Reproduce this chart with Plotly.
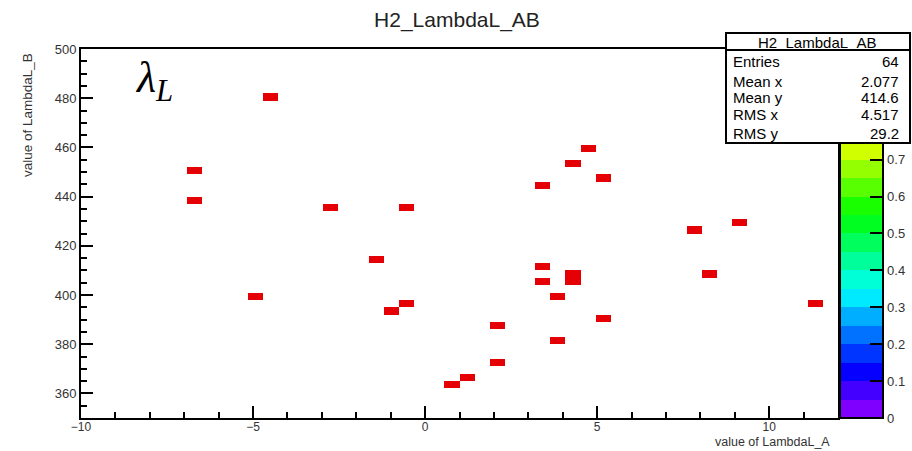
import numpy as np
import plotly.graph_objects as go
import colorsys

# ---------------- data ----------------
# filled bin centres (value of LambdaL_A, value of LambdaL_B) and bin content
BIN_X = [-4.50, -6.70, -6.70, -2.74, -0.54, -1.42, -4.94, -0.98, -0.54,
         4.74, 4.30, 5.18, 3.42, 3.42, 3.42, 4.30, 4.30, 3.86, 5.18, 3.86,
         2.10, 2.10, 1.22, 0.78, 7.82, 9.14, 8.26, 11.34]
BIN_Y = [480.5, 450.5, 438.5, 435.5, 435.5, 414.5, 399.5, 393.5, 396.5,
         459.5, 453.5, 447.5, 444.5, 411.5, 405.5, 405.5, 408.5, 399.5, 390.5, 381.5,
         387.5, 372.5, 366.5, 363.5, 426.5, 429.5, 408.5, 396.5]
BIN_W = [1] * len(BIN_X)

# histogram binning
X_MIN, X_MAX, NX = -10.0, 12.0, 50
Y_MIN, Y_MAX, NY = 350.0, 500.0, 50

HIST_TITLE = "H2_LambdaL_AB"
X_TITLE = "value of LambdaL_A"
Y_TITLE = "value of LambdaL_B"
STATS_LABELS = ["Entries", "Mean x", "Mean y", "RMS x", "RMS y"]
STATS_VALUES = ["64", "2.077", "414.6", "4.517", "29.2"]
CB_TICKS = [0, 0.1, 0.2, 0.3, 0.4, 0.5, 0.6, 0.7]
CB_TICKTEXT = ["0", "0.1", "0.2", "0.3", "0.4", "0.5", "0.6", "0.7"]
CB_VISIBLE_MAX = 0.745   # part of the palette not hidden by the stats box

# ---------------- build histogram grid ----------------
x_edges = np.linspace(X_MIN, X_MAX, NX + 1)
y_edges = np.linspace(Y_MIN, Y_MAX, NY + 1)
z = np.full((NY, NX), np.nan)
for bx, by, w in zip(BIN_X, BIN_Y, BIN_W):
    i = int(np.floor((bx - X_MIN) / (X_MAX - X_MIN) * NX))
    j = int(np.floor((by - Y_MIN) / (Y_MAX - Y_MIN) * NY))
    z[j, i] = (0 if np.isnan(z[j, i]) else z[j, i]) + w

# ---------------- ROOT-like discrete palette ----------------
NB = 20
def band_color(k):
    h = 270.0 * (1 - k / (NB - 1)) / 360.0
    r, g, b = colorsys.hls_to_rgb(h, 0.5, 1.0)
    if k == NB - 1:
        r, g, b = 0.90, 0.0, 0.02
    return f"rgb({int(r*255)},{int(g*255)},{int(b*255)})"

def discrete_scale(vmax):
    scale = []
    for k in range(NB):
        lo, hi = k / NB, (k + 1) / NB
        if lo >= vmax:
            break
        hi = min(hi, vmax)
        c = band_color(k)
        scale.append([lo / vmax, c])
        scale.append([hi / vmax, c])
    return scale

full_scale = discrete_scale(1.0)
cb_scale = discrete_scale(CB_VISIBLE_MAX)

# ---------------- layout geometry (pixels) ----------------
W, H = 912, 451
L, R, T, B = 81, 838, 49, 418
PW, PH = R - L, B - T
def px(x):
    return (x - L) / PW
def py(y):
    return (B - y) / PH

fig = go.Figure()
fig.add_trace(go.Heatmap(
    x=x_edges, y=y_edges, z=z, zmin=0, zmax=1,
    colorscale=full_scale, showscale=False, hoverongaps=False,
))
fig.add_trace(go.Scatter(
    x=[None], y=[None], mode="markers", showlegend=False, hoverinfo="skip",
    marker=dict(color=[0], cmin=0, cmax=CB_VISIBLE_MAX, colorscale=cb_scale,
                showscale=True,
                colorbar=dict(
                    x=px(840), xanchor="left", xpad=0,
                    y=0, yanchor="bottom", ypad=0,
                    len=B - 143, lenmode="pixels",
                    thickness=43, thicknessmode="pixels",
                    outlinewidth=2, outlinecolor="black",
                    ticks="inside", ticklen=14, tickwidth=2, tickcolor="black",
                    tickvals=CB_TICKS, ticktext=CB_TICKTEXT,
                    tickfont=dict(family="Liberation Sans, Arial", size=13, color="#333"),
                )),
))

font = "Liberation Sans, Arial, Helvetica"
axis_common = dict(
    showline=True, linecolor="black", linewidth=2, mirror=True,
    ticks="inside", ticklen=12, tickwidth=2, tickcolor="black",
    showgrid=False, zeroline=False,
)
fig.update_xaxes(range=[X_MIN, X_MAX], tick0=-10, dtick=5,
                 tickfont=dict(family=font, size=12, color="#333"), ticklabelstandoff=-3,
                 minor=dict(ticks="inside", ticklen=6, tickwidth=2, tickcolor="black", dtick=1, tick0=-10),
                 **axis_common)
fig.update_yaxes(range=[Y_MIN, Y_MAX], tick0=360, dtick=20,
                 tickfont=dict(family=font, size=13, color="#333"),
                 minor=dict(ticks="inside", ticklen=6, tickwidth=2, tickcolor="black", dtick=5, tick0=350),
                 **axis_common)

# stats box
shapes = [
    dict(type="rect", xref="paper", yref="paper", x0=px(726), x1=px(910), y0=py(143), y1=py(33),
         fillcolor="white", line=dict(color="black", width=2), layer="above"),
    dict(type="line", xref="paper", yref="paper", x0=px(726), x1=px(910), y0=py(50), y1=py(50),
         line=dict(color="black", width=2), layer="above"),
]
ann = [
    dict(text=HIST_TITLE, x=px(817), y=py(42), xref="paper", yref="paper", showarrow=False,
         xanchor="center", yanchor="middle", font=dict(family=font, size=15, color="black")),
]
row_y = [62, 81, 98, 115, 133]
for lab, val, ry in zip(STATS_LABELS, STATS_VALUES, row_y):
    ann.append(dict(text=lab, x=px(731), y=py(ry), xref="paper", yref="paper", showarrow=False,
                    xanchor="left", yanchor="middle", font=dict(family=font, size=15, color="black")))
    ann.append(dict(text=val, x=px(901), y=py(ry), xref="paper", yref="paper", showarrow=False,
                    xanchor="right", yanchor="middle", font=dict(family=font, size=15, color="black")))
# axis titles
ann.append(dict(text=X_TITLE, x=px(831), y=py(450), xref="paper", yref="paper", showarrow=False,
                xanchor="right", yanchor="bottom", borderpad=0,
                font=dict(family=font, size=12.5, color="#333")))
ann.append(dict(text=Y_TITLE, x=px(27), y=py(51), xref="paper", yref="paper", showarrow=False,
                textangle=-90, xanchor="center", yanchor="top", font=dict(family=font, size=13.5, color="#333")))
# lambda label
ann.append(dict(text="<i>λ</i><sub><i>L</i></sub>", x=px(133), y=py(80), xref="paper", yref="paper",
                showarrow=False, xanchor="left", yanchor="middle",
                font=dict(family="Liberation Serif, DejaVu Serif", size=44, color="black")))

fig.update_layout(
    width=W, height=H,
    margin=dict(l=L, r=W - R, t=T, b=H - B, pad=0, autoexpand=False),
    paper_bgcolor="white", plot_bgcolor="white",
    title=dict(text=HIST_TITLE, x=457 / W, y=1 - 20 / H, xanchor="center", yanchor="middle",
               font=dict(family=font, size=21, color="#222")),
    shapes=shapes, annotations=ann, showlegend=False,
)
fig.write_html("out.html")
